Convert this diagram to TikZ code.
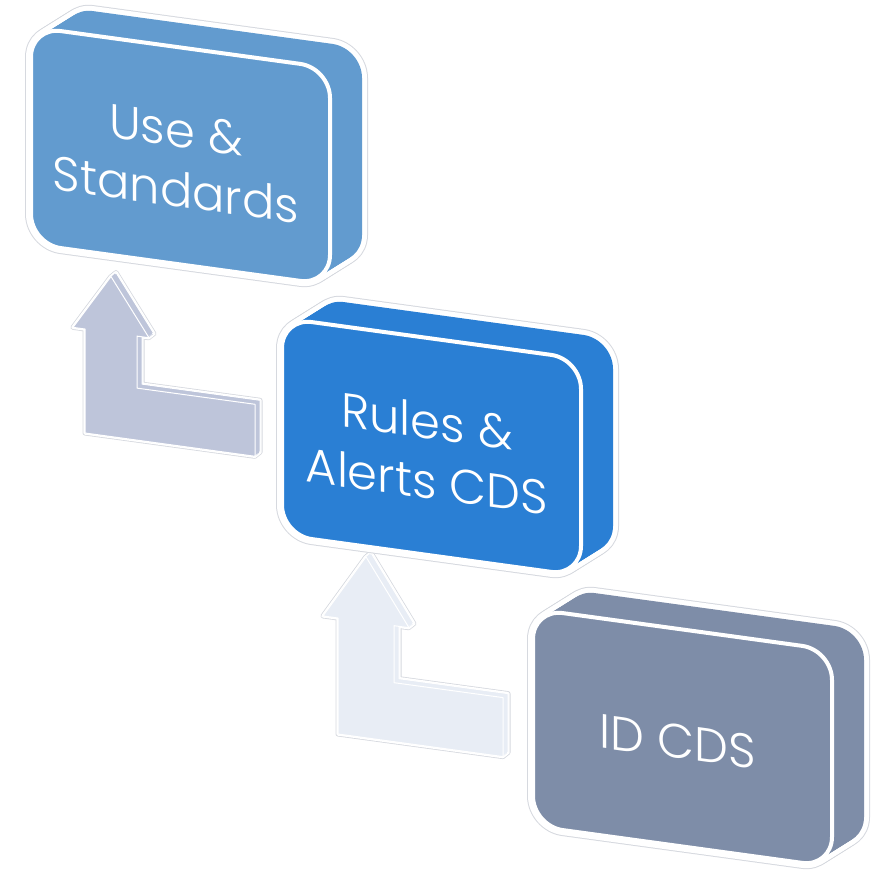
\documentclass[tikz,border=0pt]{standalone}
\usepackage{fontspec}
\IfFontExistsTF{Poppins Light}{\setmainfont{Poppins Light}}{\setmainfont{Poppins}}
\definecolor{useblue}{HTML}{629BCF}
\definecolor{rulesblue}{HTML}{2A7FD4}
\definecolor{idslate}{HTML}{7E8DA8}
\definecolor{upone}{HTML}{BEC5DA}
\definecolor{uptwo}{HTML}{E8EDF5}
\definecolor{haloline}{HTML}{D6D9DF}

\tikzset{
  card/.style={rounded corners=30pt},
  cardtext/.style={text=white, align=center, transform shape,
    font=\fontsize{48}{60}\selectfont},
}

\begin{document}
\begin{tikzpicture}[x=1pt,y=-1pt,line join=round]
  \useasboundingbox (0,0) rectangle (879,870);

  % bent up arrows (origin at left edge of the shaft)
  \foreach \ox/\w/\hl/\hr/\ty/\hy/\at/\ab/\ar/\col in
      {85/52/-12/64/273/329/381/433/170/upone,
       338/56/-15/71/553/618/675/734/165/uptwo} {
    \def\uppath{(0,\ab) -- (0,\hy) -- (\hl,\hy) -- ({(\hl+\hr)/2},\ty) -- (\hr,\hy)
      -- (\w,\hy) -- (\w,\at) -- (\ar,\at) -- (\ar,\ab) -- cycle}
    \foreach \i in {0,...,4}
      \draw[haloline, line width=5pt, shift={(\ox+1.25*\i,-\i)}, yslant=-0.137] \uppath;
    \foreach \i in {0,...,4}
      \draw[white, line width=3.4pt, shift={(\ox+1.25*\i,-\i)}, yslant=-0.137] \uppath;
    \filldraw[fill=\col, draw=white, line width=1pt, shift={(\ox+5,-4)}, yslant=-0.137] \uppath;
    \foreach \i in {3,2,1}
      \fill[\col, shift={(\ox+1.25*\i,-\i)}, yslant=-0.137] \uppath;
    \filldraw[fill=\col, draw=white, line width=1pt, shift={(\ox,0)}, yslant=-0.137] \uppath;
  }

  % cards: a rounded face pushed back to the upper right
  \foreach \cx/\cy/\col/\name/\txt in
      {31/27/useblue/use/{Use \&\\Standards},
       282/318/rulesblue/rules/{Rules \&\\Alerts CDS},
       533/609/idslate/id/{ID CDS}} {
    \foreach \i in {0,...,16}
      \draw[haloline, line width=12pt, card, shift={(\cx+2*\i,\cy-1.25*\i)}, yslant=-0.137]
        (0,0) rectangle (299,217);
    \foreach \i in {0,...,16}
      \draw[white, line width=10pt, card, shift={(\cx+2*\i,\cy-1.25*\i)}, yslant=-0.137]
        (0,0) rectangle (299,217);
    \foreach \i in {0,...,16}
      \fill[\col, card, shift={(\cx+2*\i,\cy-1.25*\i)}, yslant=-0.137]
        (0,0) rectangle (299,217);
    \begin{scope}[shift={(\cx,\cy)}, yslant=-0.137]
      \filldraw[fill=\col, draw=white, line width=4pt, card] (0,0) rectangle (299,217);
      \node[cardtext] (\name) at (145,113) {\txt};
    \end{scope}
  }
\end{tikzpicture}
\end{document}
